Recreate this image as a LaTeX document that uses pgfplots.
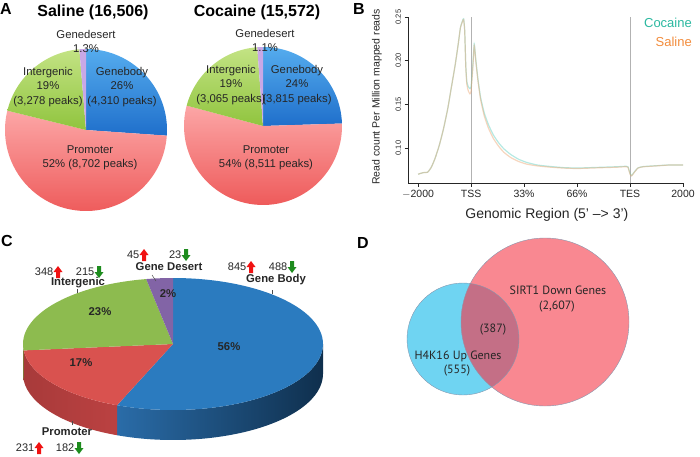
\documentclass[border=0pt]{standalone}
\usepackage{pgfplots}
\pgfplotsset{compat=1.18}
\usepackage{fontspec}
\setmainfont{Liberation Sans}
\newfontfamily\ptsans{PT Sans}

\definecolor{gbA}{HTML}{55ACEE}\definecolor{gbB}{HTML}{1F6FCB}
\definecolor{prA}{HTML}{FCA6A6}\definecolor{prB}{HTML}{EE5A5A}
\definecolor{igA}{HTML}{C3E384}\definecolor{igB}{HTML}{90C43E}
\definecolor{gdA}{HTML}{C9A8E6}
\definecolor{cBlue}{HTML}{2B7BBF}\definecolor{cBlueSL}{HTML}{2A6CA8}\definecolor{cBlueSR}{HTML}{0F2F4D}
\definecolor{cRed}{HTML}{D9524F}\definecolor{cRedSL}{HTML}{A83A3A}\definecolor{cRedSR}{HTML}{C64646}
\definecolor{cGreen}{HTML}{8DBB4F}\definecolor{cGreenS}{HTML}{6F9438}
\definecolor{cPurple}{HTML}{8264A6}
\definecolor{vBlue}{HTML}{6FD4F2}\definecolor{vRed}{HTML}{F98891}\definecolor{vOver}{HTML}{C46F86}\definecolor{vLine}{HTML}{8797AE}
\definecolor{teal}{HTML}{2BB8A0}\definecolor{orng}{HTML}{F28C3C}
\definecolor{cocLine}{HTML}{5CCFC0}\definecolor{salLine}{HTML}{EBA36E}
\definecolor{arrRed}{HTML}{F01212}\definecolor{arrGreen}{HTML}{1E8C1E}
\definecolor{txt}{HTML}{262626}

% angles of slices (clockwise from top) computed from the counts
\newcommand\pieangles[5]{%
  \edef\tot{\fpeval{#2+#3+#4+#5}}%
  \expandafter\xdef\csname #1A\endcsname{\fpeval{round(90-360*(#2)/\tot,3)}}%
  \expandafter\xdef\csname #1B\endcsname{\fpeval{round(90-360*(#2+#3)/\tot,3)}}%
  \expandafter\xdef\csname #1C\endcsname{\fpeval{round(90-360*(#2+#3+#4)/\tot,3)}}%
}
% Saline: Genebody, Promoter, Intergenic, Genedesert
\pieangles{sal}{4310}{8702}{3278}{216}
% Cocaine
\pieangles{coc}{3815}{8511}{3065}{181}
% Panel C: Gene Body, Promoter, Intergenic, Gene Desert (up+down)
\pieangles{cc}{1333}{413}{563}{68}

\newcommand\wedgeA[6]{%
  \path[#6] (axis cs:#1,#2) -- ++(#4:#3pt) arc[start angle=#4,end angle=#5,radius=#3pt] -- cycle;}
\newcommand\ewedge[3]{%
  \path[#3] (axis cs:173,112) -- ++(#1:150pt and 66pt) arc[start angle=#1,end angle=#2,x radius=150pt,y radius=66pt] -- cycle;}
\newcommand\eside[3]{%
  \path[#3] (axis cs:173,112) ++(#1:150pt and 66pt) arc[start angle=#1,end angle=#2,x radius=150pt,y radius=66pt] -- ++(0pt,-30pt) arc[start angle=#2,end angle=#1,x radius=150pt,y radius=66pt] -- cycle;}

\newcommand\uparr[2]{\fill[arrRed] (#1-2,#2-6) -- (#1+2,#2-6) -- (#1+2,#2) -- (#1+4.5,#2) -- (#1,#2+6) -- (#1-4.5,#2) -- (#1-2,#2) -- cycle;}
\newcommand\dnarr[2]{\fill[arrGreen] (#1-2,#2+6) -- (#1+2,#2+6) -- (#1+2,#2) -- (#1+4.5,#2) -- (#1,#2-6) -- (#1-4.5,#2) -- (#1-2,#2) -- cycle;}

\begin{document}
\begin{tikzpicture}[x=1pt,y=1pt]
% ---------------- main hidden axis: pies and Venn ----------------
\begin{axis}[at={(0pt,0pt)},anchor=south west,scale only axis,width=700pt,height=456pt,
  xmin=0,xmax=700,ymin=0,ymax=456,hide axis,clip=false]
% Panel A, Saline
\wedgeA{86}{326}{81}{90}{\salA}{top color=gbA,bottom color=gbB}
\wedgeA{86}{326}{81}{\salA}{\salB}{top color=prA,bottom color=prB}
\wedgeA{86}{326}{81}{\salB}{\salC}{top color=igA,bottom color=igB}
\wedgeA{86}{326}{81}{\salC}{-270}{fill=gdA}
% Panel A, Cocaine
\wedgeA{263}{330}{79}{90}{\cocA}{top color=gbA,bottom color=gbB}
\wedgeA{263}{330}{79}{\cocA}{\cocB}{top color=prA,bottom color=prB}
\wedgeA{263}{330}{79}{\cocB}{\cocC}{top color=igA,bottom color=igB}
\wedgeA{263}{330}{79}{\cocC}{-270}{fill=gdA}
% Panel C, 3D pie: sides
\eside{\ccA}{0}{left color=cBlueSL,right color=cBlueSR}
\eside{\ccB}{\ccA}{left color=cRedSL,right color=cRedSR}
\eside{-180}{\ccB}{fill=cGreenS}
% Panel C, top face
\ewedge{90}{\ccA}{fill=cBlue}
\ewedge{\ccA}{\ccB}{fill=cRed}
\ewedge{\ccB}{\ccC}{fill=cGreen}
\ewedge{\ccC}{-270}{fill=cPurple}
% Panel D, Venn
\fill[vBlue] (axis cs:463,117) circle[radius=56pt];
\fill[vRed] (axis cs:545,134) circle[radius=84pt];
\begin{scope}
\clip (axis cs:463,117) circle[radius=56pt];
\fill[vOver] (axis cs:545,134) circle[radius=84pt];
\end{scope}
\draw[vLine,line width=0.4pt] (axis cs:463,117) circle[radius=56pt];
\draw[vLine,line width=0.4pt] (axis cs:545,134) circle[radius=84pt];
\end{axis}

% ---------------- Panel B ----------------
\begin{axis}[at={(408pt,273pt)},anchor=south west,scale only axis,width=275pt,height=166pt,
  xmin=-0.19,xmax=5,ymin=0.0599,ymax=0.25,
  axis lines=left, axis line style={-,line width=0.6pt,black!85},
  tick style={black!85,line width=0.5pt}, tick align=outside, major tick length=3.5pt,
  xtick={0,1,2,3,4,5}, xticklabels={$-$2000,TSS,33\%,66\%,TES,2000},
  xticklabel style={font=\fontsize{10.5}{12}\selectfont,text=txt},
  ytick={0.10,0.15,0.20,0.25}, yticklabels={0.10,0.15,0.20,0.25},
  yticklabel style={rotate=90,anchor=south,font=\fontsize{7.5}{8}\selectfont,text=txt},
  xlabel={Genomic Region (5' –> 3')},
  xlabel style={at={(axis description cs:0.505,-0.193)},anchor=center,font=\fontsize{14}{16}\selectfont,text=txt},
  ylabel={Read count Per Million mapped reads},
  ylabel style={at={(axis description cs:-0.113,0.518)},anchor=center,font=\fontsize{10.5}{12}\selectfont,text=txt},
  clip=false]
\draw[black!30,line width=0.6pt] (axis cs:1,0.0599) -- (axis cs:1,0.25);
\draw[black!30,line width=0.6pt] (axis cs:4,0.0599) -- (axis cs:4,0.25);
\addplot[cocLine,opacity=0.45,line width=1.2pt,smooth,tension=0.3] coordinates {
(0.00,0.0700)(0.10,0.0718)(0.18,0.0722)(0.25,0.0780)(0.32,0.0880)(0.40,0.1030)(0.48,0.1220)
(0.56,0.1450)(0.63,0.1700)(0.70,0.1950)(0.76,0.2200)(0.80,0.2380)(0.84,0.2460)(0.86,0.2480)
(0.88,0.2350)(0.90,0.1950)(0.92,0.1760)(0.95,0.1700)(0.98,0.1680)(1.00,0.1700)(1.03,0.1920)
(1.06,0.2190)(1.09,0.2010)(1.13,0.1790)(1.18,0.1580)(1.25,0.1400)(1.33,0.1265)(1.42,0.1150)
(1.52,0.1060)(1.62,0.0990)(1.75,0.0925)(1.90,0.0870)(2.05,0.0835)(2.25,0.0805)(2.50,0.0788)
(2.75,0.0775)(3.00,0.0770)(3.25,0.0775)(3.50,0.0780)(3.75,0.0785)(3.90,0.0790)(3.96,0.0785)
(4.00,0.0710)(4.03,0.0685)(4.08,0.0725)(4.15,0.0772)(4.25,0.0787)(4.50,0.0797)(4.75,0.0806)(5.00,0.0805)};
\addplot[salLine,opacity=0.45,line width=1.2pt,smooth,tension=0.3] coordinates {
(0.00,0.0700)(0.10,0.0718)(0.18,0.0722)(0.25,0.0780)(0.32,0.0880)(0.40,0.1030)(0.48,0.1220)
(0.56,0.1450)(0.63,0.1700)(0.70,0.1950)(0.76,0.2200)(0.80,0.2380)(0.84,0.2450)(0.86,0.2470)
(0.88,0.2340)(0.90,0.1940)(0.92,0.1730)(0.95,0.1650)(0.98,0.1620)(1.00,0.1650)(1.03,0.1890)
(1.06,0.2170)(1.09,0.1990)(1.13,0.1770)(1.18,0.1555)(1.25,0.1365)(1.33,0.1225)(1.42,0.1110)
(1.52,0.1020)(1.62,0.0950)(1.75,0.0890)(1.90,0.0845)(2.05,0.0815)(2.25,0.0795)(2.50,0.0780)
(2.75,0.0770)(3.00,0.0765)(3.25,0.0770)(3.50,0.0775)(3.75,0.0780)(3.90,0.0785)(3.96,0.0780)
(4.00,0.0700)(4.03,0.0680)(4.08,0.0720)(4.15,0.0770)(4.25,0.0785)(4.50,0.0795)(4.75,0.0805)(5.00,0.0805)};
\end{axis}

% ---------------- text: panel letters ----------------
\begin{scope}[every node/.style={font=\bfseries\fontsize{16}{18}\selectfont,inner sep=0}]
\node at (6,447) {A};
\node at (359,447) {B};
\node at (7,215) {C};
\node at (363,213) {D};
\end{scope}

% ---------------- Panel A text ----------------
\node[font=\bfseries\fontsize{16}{18}\selectfont] at (93,444) {Saline (16,506)};
\node[font=\bfseries\fontsize{16}{18}\selectfont] at (257,444) {Cocaine (15,572)};
\begin{scope}[every node/.style={font=\fontsize{11.3}{14.5}\selectfont,align=center,text=txt,inner sep=0}]
\node at (86,414.5) {Genedesert\\1.3\%};
\node at (48,369) {Intergenic\\19\%\\(3,278 peaks)};
\node at (122,369) {Genebody\\26\%\\(4,310 peaks)};
\node at (90,298) {Promoter\\52\% (8,702 peaks)};
\node at (265,415.5) {Genedesert\\1.1\%};
\node at (231,371) {Intergenic\\19\%\\(3,065 peaks)};
\node at (297,371) {Genebody\\24\%\\(3,815 peaks)};
\node at (266,298) {Promoter\\54\% (8,511 peaks)};
\end{scope}

% ---------------- Panel B legend ----------------
\node[anchor=east,inner sep=0,font=\fontsize{13}{15}\selectfont,text=teal] at (692,433) {Cocaine};
\node[anchor=east,inner sep=0,font=\fontsize{13}{15}\selectfont,text=orng] at (692,414) {Saline};

% ---------------- Panel C text ----------------
\begin{scope}[every node/.style={font=\bfseries\fontsize{11.3}{13}\selectfont,text=txt,inner sep=0}]
\node at (78,173) {Intergenic};
\node at (169,189) {Gene Desert};
\node at (276,176) {Gene Body};
\node at (67,24) {Promoter};
\node at (168,162) {2\%};
\node at (100,144) {23\%};
\node at (81,93) {17\%};
\node at (229,109) {56\%};
\end{scope}
\draw[black!70,line width=0.5pt] (77,163) -- (77,167);
\draw[black!70,line width=0.5pt] (272,162) -- (272,166);
\draw[black!70,line width=0.5pt] (72,31) -- (72,35);
\draw[black!70,line width=0.5pt] (152,181) -- (156,175);
\begin{scope}[every node/.style={font=\fontsize{11}{13}\selectfont,text=txt,inner sep=0,anchor=east}]
\node at (53.5,184) {348}; \uparr{58}{184}
\node at (94.5,184) {215}; \dnarr{99}{184}
\node at (139.5,201) {45}; \uparr{144}{201}
\node at (181.5,201) {23}; \dnarr{186}{201}
\node at (246.5,189) {845}; \uparr{251}{189}
\node at (287.5,189) {488}; \dnarr{292}{189}
\node at (34.5,8) {231}; \uparr{39}{8}
\node at (74.5,8) {182}; \dnarr{79}{8}
\end{scope}

% ---------------- Panel D text ----------------
\begin{scope}[every node/.style={font=\ptsans\fontsize{12}{14}\selectfont,text=txt,inner sep=0}]
\node at (558,166) {SIRT1 Down Genes};
\node at (557,149) {(2,607)};
\node at (493,126) {(387)};
\node at (458,100) {H4K16 Up Genes};
\node at (457,85) {(555)};
\end{scope}

\pgfresetboundingbox
\path (0,0) rectangle (700,456);
\end{tikzpicture}
\end{document}
